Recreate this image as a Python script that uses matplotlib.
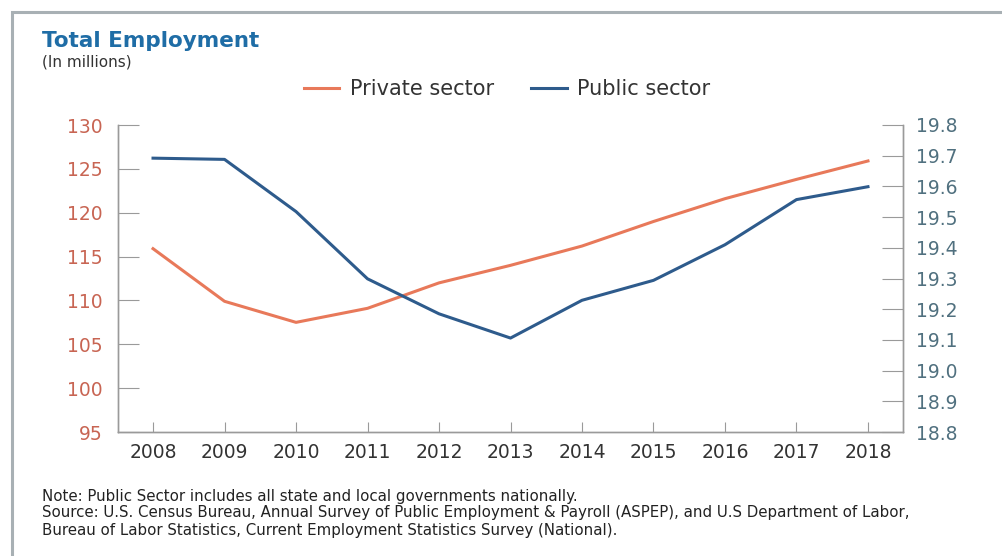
import matplotlib.pyplot as plt
from matplotlib.patches import Rectangle
from matplotlib.lines import Line2D

# Data (millions)
years = [2008, 2009, 2010, 2011, 2012, 2013, 2014, 2015, 2016, 2017, 2018]
private = [115.9, 109.9, 107.5, 109.1, 112.0, 114.0, 116.2, 119.0, 121.6, 123.8, 125.9]
public = [19.692, 19.688, 19.518, 19.299, 19.185, 19.106, 19.229, 19.294, 19.41, 19.557, 19.599]

left_ticks = [95, 100, 105, 110, 115, 120, 125, 130]
right_ticks = [18.8, 18.9, 19.0, 19.1, 19.2, 19.3, 19.4, 19.5, 19.6, 19.7, 19.8]

orange = '#E8795A'
blue = '#2E5B8C'
axis_grey = '#9a9a9a'

plt.rcParams['font.family'] = ['DejaVu Sans']

fig = plt.figure(figsize=(10.03, 5.56), dpi=100)

# outer frame
fig.patches.append(Rectangle((12 / 1003, -0.05), 1.1, 1 - 12 / 556 + 0.05,
                             transform=fig.transFigure, fill=False,
                             edgecolor='#a8b0b4', linewidth=2.2))

ax = fig.add_axes([118 / 1003, 1 - 432 / 556, (903 - 118) / 1003, (432 - 125) / 556])
ax2 = ax.twinx()

ax.plot(years, private, color=orange, linewidth=2.2)
ax2.plot(years, public, color=blue, linewidth=2.2)

ax.set_xlim(2007.51, 2018.49)
ax.set_ylim(95, 130)
ax2.set_ylim(18.8, 19.8)
ax.set_xticks(years)
ax.set_yticks(left_ticks)
ax2.set_yticks(right_ticks)
ax2.set_yticklabels([f'{v:.1f}' for v in right_ticks])

for a in (ax, ax2):
    a.spines['top'].set_visible(False)
    for s in ('left', 'right', 'bottom'):
        a.spines[s].set_color(axis_grey)
        a.spines[s].set_linewidth(1.0)

ax.tick_params(axis='y', direction='in', length=15, color=axis_grey,
               labelcolor='#C86553', labelsize=13.5, pad=11)
ax2.tick_params(axis='y', direction='in', length=15, color=axis_grey,
                labelcolor='#50707F', labelsize=13.5, pad=9.5)
ax.tick_params(axis='x', direction='in', length=7, color=axis_grey,
               labelcolor='#333333', labelsize=13.5, pad=8)

fig.text(42 / 1003, 1 - 41 / 556, 'Total Employment', fontsize=15.5, fontweight='bold',
         color='#1F6DA6', va='center', ha='left')
fig.text(42 / 1003, 1 - 62 / 556, '(In millions)', fontsize=11, color='#333333',
         va='center', ha='left')

handles = [Line2D([], [], color=orange, linewidth=2.2),
           Line2D([], [], color=blue, linewidth=2.2)]
fig.legend(handles, ['Private sector', 'Public sector'], loc='center',
           bbox_to_anchor=(507 / 1003, 1 - 89 / 556), ncol=2, frameon=False,
           fontsize=15, handlelength=1.7, columnspacing=1.8, handletextpad=0.5,
           labelcolor='#333333')

notes = ['Note: Public Sector includes all state and local governments nationally.',
         'Source: U.S. Census Bureau, Annual Survey of Public Employment & Payroll (ASPEP), and U.S Department of Labor,',
         'Bureau of Labor Statistics, Current Employment Statistics Survey (National).']
for i, line in enumerate(notes):
    fig.text(42 / 1003, 1 - (496 + 17 * i) / 556, line, fontsize=10.8, color='#222222',
             va='center', ha='left')

fig.savefig('out.png', dpi=100)
